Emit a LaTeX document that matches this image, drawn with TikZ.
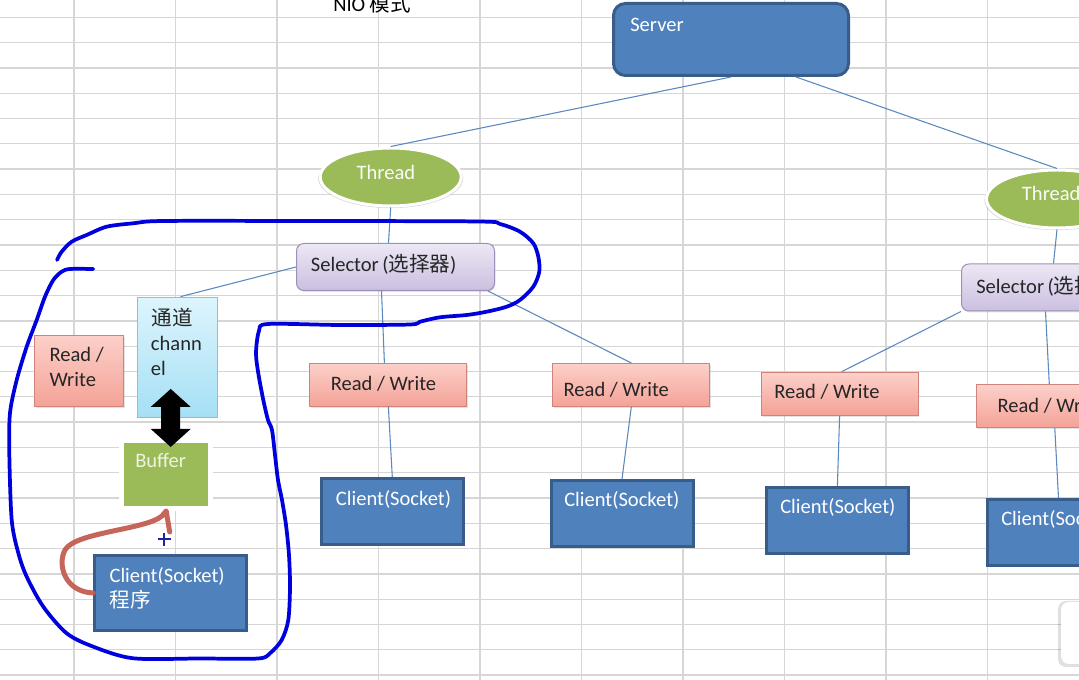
\documentclass[tikz,border=0pt]{standalone}
\usepackage{fontspec}
\setmainfont{Carlito}
\newfontfamily\cjk{Noto Sans CJK SC}
\usetikzlibrary{calc,shadows,shapes.geometric}

\definecolor{gridgray}{HTML}{D6D6D6}
\definecolor{blueFill}{HTML}{4F81BD}
\definecolor{blueEdge}{HTML}{385D8A}
\definecolor{oliveFill}{HTML}{9BBB59}
\definecolor{lavTop}{HTML}{ECE7F4}
\definecolor{lavBot}{HTML}{CBBFE0}
\definecolor{lavEdge}{HTML}{9D90BA}
\definecolor{salTop}{HTML}{FCD0C9}
\definecolor{salBot}{HTML}{F4A297}
\definecolor{salEdge}{HTML}{D0837B}
\definecolor{cyanTop}{HTML}{DDF5FD}
\definecolor{cyanBot}{HTML}{A5DFF5}
\definecolor{cyanEdge}{HTML}{86C3DA}
\definecolor{wire}{HTML}{5A88BF}
\definecolor{inkBlue}{HTML}{0000DC}
\definecolor{inkRed}{HTML}{C25A4C}
\definecolor{cursorBlue}{HTML}{1E22A8}
\definecolor{darktext}{HTML}{262626}
\definecolor{buftext}{HTML}{EEF3E2}

\tikzset{
  sheetgrid/.style={draw=gridgray, line width=0.95pt},
  boxsize/.style 2 args={minimum width=#1*0.75pt, minimum height=#2*0.75pt, inner sep=0pt},
  bluebox/.style={rectangle, fill=blueFill, draw=blueEdge, line width=2.25pt},
  threadnode/.style={ellipse, fill=oliveFill, draw=white, line width=2.25pt,
    boxsize={141}{58},
    drop shadow={opacity=0.28, shadow xshift=0pt, shadow yshift=-0.9pt, shadow scale=1.03}},
  selbox/.style={rectangle, rounded corners=5.5pt, top color=lavTop, bottom color=lavBot,
    draw=lavEdge, line width=0.75pt, boxsize={198}{47},
    drop shadow={opacity=0.22, shadow xshift=0.6pt, shadow yshift=-1pt}},
  rwbox/.style={rectangle, top color=salTop, bottom color=salBot,
    draw=salEdge, line width=0.75pt, boxsize={157}{43},
    drop shadow={opacity=0.22, shadow xshift=0.6pt, shadow yshift=-1pt}},
  clientbox/.style={bluebox, boxsize={142}{66}},
  wirestyle/.style={draw=wire, line width=0.8pt},
  txt/.style={inner sep=0pt, anchor=base west, font=\fontsize{15.4pt}{19pt}\selectfont},
  txtw/.style={txt, text=white},
  txtd/.style={txt, text=darktext},
  blueink/.style={draw=inkBlue, line width=2.8pt, line cap=round, line join=round},
  redink/.style={draw=inkRed, line width=3.75pt, line cap=round, line join=round, opacity=0.92},
}

\begin{document}
\begin{tikzpicture}[x=0.75pt, y=-0.75pt]
\useasboundingbox (0,0) rectangle (1079,680);
\clip (0,0) rectangle (1079,680);
\fill[white] (0,0) rectangle (1079,680);

% spreadsheet grid behind the drawing
\foreach \k in {0,...,9}
  \draw[sheetgrid] ({74+101.5*\k},0) -- ({74+101.5*\k},680);
\foreach \k in {0,...,26}
  \draw[sheetgrid] (0,{17.3+25.3*\k}) -- (1079,{17.3+25.3*\k});

% heading
\node[txt, text=black] (title) at (333,11.5) {NIO {\cjk 模式}};

% server and its two threads
\node[bluebox, boxsize={235}{72}, rounded corners=9pt] (server) at (731,39.5) {};
\node[txtw] (serverT) at (630,31.6) {Server};

\node[threadnode] (threadL) at (390.7,177) {};
\node[txtw, text=white!95!oliveFill] (threadLT) at (356.4,180) {Thread};
\node[threadnode] (threadR) at (1057,199) {};
\node[txtw, text=white!95!oliveFill] (threadRT) at (1021.7,201) {Thread};

% selectors
\node[selbox] (selL) at (395.5,267) {};
\node[txtd] (selLT) at (310.7,271.6) {Selector\,({\cjk 选择器})};
\node[selbox] (selR) at (1060.5,287.5) {};
\node[txtd] (selRT) at (976,293.3) {Selector\,({\cjk 选择器})};

% channel, buffer and the client program
\node[rectangle, top color=cyanTop, bottom color=cyanBot, draw=cyanEdge, line width=0.75pt,
      boxsize={80.6}{120.3}] (chan) at (177.5,357.3) {};
\node[txtd] (chanT1) at (151.7,325.3) {\cjk 通道};
\node[txtd] (chanT2) at (150.7,350.7) {chann};
\node[txtd] (chanT3) at (150.7,376) {el};

\node[rectangle, fill=oliveFill, draw=white, line width=3.75pt, boxsize={89.3}{68.3},
      drop shadow={opacity=0.3, shadow xshift=0.8pt, shadow yshift=-1.2pt}] (buffer) at (166.2,474.3) {};
\node[txt, text=buftext] (bufferT) at (135,467.3) {Buffer};

\node[rwbox, boxsize={89}{71}] (rwL) at (79.3,370.8) {};
\node[txtd] (rwLT1) at (49.3,361.6) {Read /};
\node[txtd] (rwLT2) at (49.3,386.6) {Write};

\node[bluebox, boxsize={152}{74.4}] (clientP) at (170.8,593) {};
\node[txtw] (clientPT1) at (109.3,582.6) {Client(Socket)};
\node[txtw] (clientPT2) at (109.3,608) {\cjk 程序};

% read/write stages and their clients
\node[rwbox] (rw1) at (388.4,385) {};
\node[txtd] (rw1T) at (330.6,391) {Read / Write};
\node[clientbox] (c1) at (392.3,511.7) {};
\node[txtw] (c1T) at (335.7,505.6) {Client(Socket)};

\node[rwbox] (rw2) at (631.3,385) {};
\node[txtd] (rw2T) at (563.4,397) {Read / Write};
\node[clientbox] (c2) at (622,513.5) {};
\node[txtw] (c2T) at (564,506.6) {Client(Socket)};

\node[rwbox] (rw3) at (839.6,393.7) {};
\node[txtd] (rw3T) at (774,398.3) {Read / Write};
\node[clientbox] (c3) at (837.4,520.5) {};
\node[txtw] (c3T) at (780,514) {Client(Socket)};

\node[rwbox] (rw4) at (1054.8,406.2) {};
\node[txtd] (rw4T) at (997.3,412.6) {Read / Write};
\node[clientbox] (c4) at (1058.5,532.5) {};
\node[txtw] (c4T) at (1001,526) {Client(Socket)};

% connectors
\draw[wirestyle] (server.south) -- (threadL.north);
\draw[wirestyle] ($(server.south)+(65,0)$) -- (threadR.north);
\draw[wirestyle] (threadL.south) -- ($(selL.north)+(-7,0)$);
\draw[wirestyle] (threadR.south) -- ($(selR.north)+(-7,0)$);
\draw[wirestyle] (selL.west) -- ($(chan.north)+(3,0)$);
\draw[wirestyle] ($(selL.south)+(-14,0)$) -- ($(rw1.north)+(-4,0)$);
\draw[wirestyle] ($(selL.south east)+(-7,0)$) -- (rw2.north);
\draw[wirestyle] (selR.south west) -- ($(rw3.north)+(2,0)$);
\draw[wirestyle] ($(selR.south)+(-15,0)$) -- ($(rw4.north)+(-5.5,0)$);
\draw[wirestyle] (rw1.south) -- (c1.north);
\draw[wirestyle] (rw2.south) -- (c2.north);
\draw[wirestyle] (rw3.south) -- (c3.north);
\draw[wirestyle] (rw4.south) -- (c4.north);

% two-way block arrow between channel and buffer
\coordinate (dtop) at ($(chan.south)+(-6.8,-29)$);
\fill[black] (dtop) -- ++(20,18) -- ++(-10.5,0) -- ++(0,22) -- ++(10.5,0) -- ++(-20,18)
  -- ++(-20,-18) -- ++(10.5,0) -- ++(0,-22) -- ++(-10.5,0) -- cycle;

% hand-drawn arrow from the client program to the buffer
\draw[redink] (clientP.west) .. controls (65,592) and (57,565) .. (65,550)
  .. controls (75,532) and (145,530) .. (162,516) -- (buffer.south) -- ++(3.5,21);

% mouse cursor
\draw[cursorBlue, line width=1.5pt] (158,539.3) -- (170.5,539.3) (164.3,533) -- (164.3,546);

% hand-drawn loop round one selector and its client
\draw[blueink] plot[smooth, tension=0.5] coordinates {
  (57,260) (61.7,251.7) (71.7,241.7) (86.7,235) (106.7,226.7) (133.3,223.3) (163.3,221)
  (300,221) (478,221.5) (500,224) (520,231.7) (533.3,243.3) (538.3,256.7) (539.3,271.7)
  (533.3,286.7) (520,300) (506.7,306.7) (486.7,311.7) (466.7,315) (440,317.3) (420,321.7)
  (410,324.5) (340,325) (268,324) (259,331) (256,353) (258.3,373.3) (263.3,400) (268,420)
  (272,430) (275,455) (278,480) (282,500) (286,525) (289,555) (290,587) (288.3,620)
  (281.7,640) (270,653.3) (258,658.5) (200,658.5) (133.3,658.3) (93.3,646.7) (66.7,633.3)
  (43.3,606.7) (26.7,576.7) (18.3,553) (11.7,520) (9.3,453) (10,413) (16.7,380)
  (26.7,346.7) (36.7,320) (45,296.7) (53.3,280) (61.7,271.7) (70,269) (93.3,269)};

% small floating panel at the lower right edge
\fill[black, opacity=0.12, rounded corners=6pt] (1058,601) rectangle (1095,667);
\fill[white, rounded corners=6pt] (1061,602) rectangle (1095,664);
\end{tikzpicture}
\end{document}
